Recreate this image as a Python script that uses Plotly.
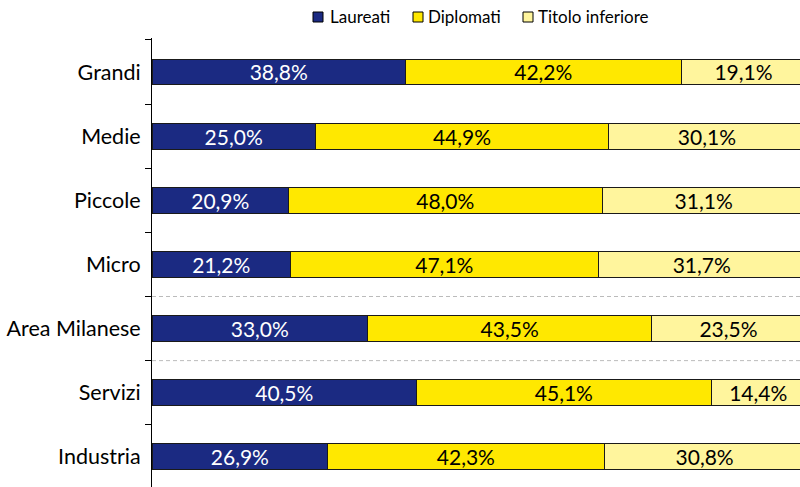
import plotly.graph_objects as go

categories = ["Grandi", "Medie", "Piccole", "Micro", "Area Milanese", "Servizi", "Industria"]
laureati = [38.8, 25.0, 20.9, 21.2, 33.0, 40.5, 26.9]
diplomati = [42.2, 44.9, 48.0, 47.1, 43.5, 45.1, 42.3]
inferiore = [19.1, 30.1, 31.1, 31.7, 23.5, 14.4, 30.8]
series_names = ["Laureati", "Diplomati", "Titolo inferiore"]
colors = ["#1B2A82", "#FFE800", "#FFF59D"]
text_colors = ["white", "black", "black"]

FONT = "Lato"

W, H = 800, 487
L, T = 152, 38
PW, PH = W - L, H - T

def fmt(v):
    return f"{v:.1f}".replace(".", ",") + "%"

fig = go.Figure()
for name, vals, col, tcol in zip(series_names, [laureati, diplomati, inferiore], colors, text_colors):
    fig.add_trace(go.Bar(
        y=categories, x=vals, name=name, orientation="h",
        marker=dict(color=col, line=dict(color="#1a1a1a", width=1)),
        text=[fmt(v) for v in vals], textposition="inside",
        insidetextanchor="middle",
        textfont=dict(color=tcol, size=21, family=FONT),
        width=0.405, showlegend=False, hoverinfo="skip",
    ))

for yb in [3.5, 4.5]:
    fig.add_shape(type="line", xref="paper", x0=0, x1=1, yref="y", y0=yb, y1=yb,
                  line=dict(color="#BBBBBB", width=1, dash="4px,3px"), layer="below")

# manual legend (screen pixel positions -> paper coords)
def px(sx):
    return (sx - L) / PW

def py(sy):
    return (H - sy) / PH

legend_items = [(313, 328), (413, 426), (523, 536)]
for (sq, tx), name, col in zip(legend_items, series_names, colors):
    fig.add_shape(type="rect", xref="paper", yref="paper",
                  x0=px(sq), x1=px(sq + 10), y0=py(22), y1=py(12),
                  fillcolor=col, line=dict(color="black", width=1))
    fig.add_annotation(xref="paper", yref="paper", x=px(tx), y=py(17),
                       xanchor="left", yanchor="middle", text=name, showarrow=False,
                       font=dict(size=17, family=FONT, color="black"))

fig.update_layout(
    barmode="stack",
    width=W, height=H,
    margin=dict(l=L, r=0, t=T, b=0, autoexpand=False),
    plot_bgcolor="white", paper_bgcolor="white",
    font=dict(family=FONT, size=21, color="black"),
    showlegend=False,
    uniformtext=dict(minsize=21, mode="show"),
    xaxis=dict(range=[0, 99.2], showticklabels=False, showgrid=False, zeroline=False,
               showline=False, ticks=""),
    yaxis=dict(categoryorder="array", categoryarray=categories, automargin=False,
               range=[6.47, -0.53], showline=True, linecolor="black", linewidth=1,
               ticks="outside", tickson="boundaries", ticklen=6, tickcolor="black",
               ticklabelstandoff=6,
               showgrid=False, tickfont=dict(size=21.5, family=FONT)),
)

fig.write_html("out.html", config={"displayModeBar": False},
               post_script="document.body.style.margin='0';document.body.style.overflow='hidden';")
